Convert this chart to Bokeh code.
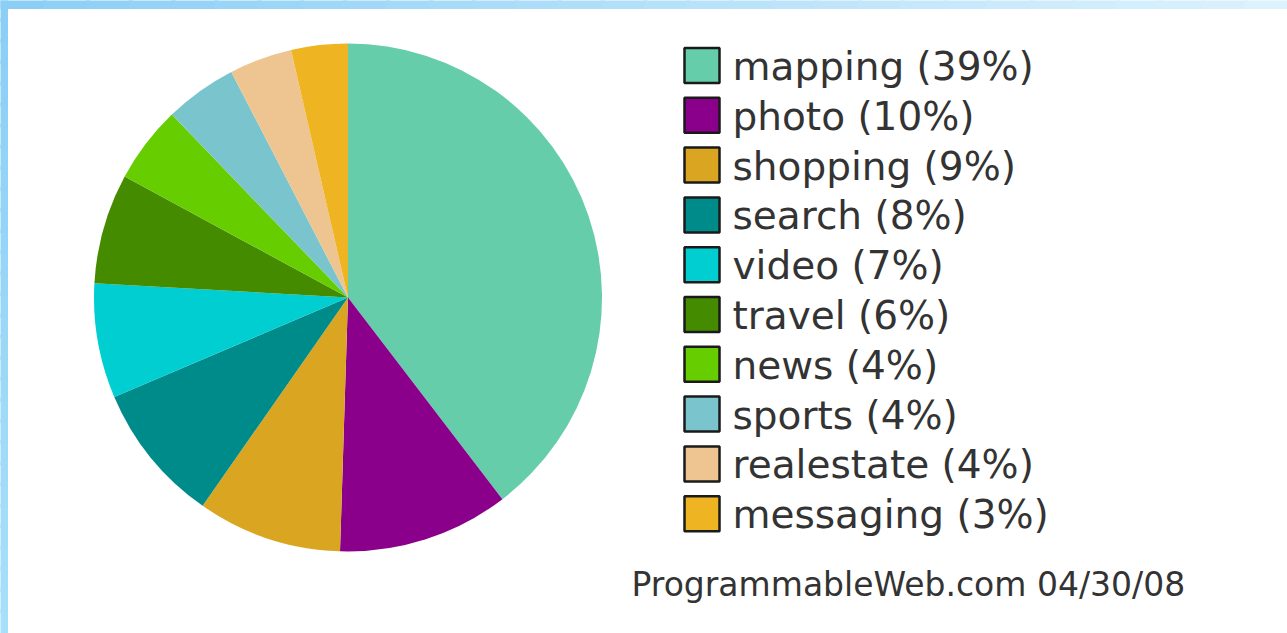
import numpy as np
from bokeh.plotting import figure
from bokeh.models import ColumnDataSource, Range1d
from bokeh.core.properties import value
from bokeh.embed import file_html
from bokeh.resources import INLINE

# ---- data ----
categories = ["mapping", "photo", "shopping", "search", "video",
              "travel", "news", "sports", "realestate", "messaging"]
legend_pct = [39, 10, 9, 8, 7, 6, 4, 4, 4, 3]
# slice shares (percent of the full circle)
slice_share = [39.6, 10.9, 9.2, 8.9, 7.3, 7.0, 4.9, 4.6, 4.0, 3.6]
colors = ["#66CDAA", "#8B008B", "#DAA520", "#008B8B", "#00CED1",
          "#458B00", "#66CD00", "#7AC5CD", "#EEC591", "#EEB422"]
footer = "ProgrammableWeb.com 04/30/08"

W, H = 1287, 633
p = figure(width=W, height=H, output_backend="svg", toolbar_location=None,
           x_range=Range1d(0, W), y_range=Range1d(0, H), min_border=0)
p.axis.visible = False
p.grid.visible = False
p.outline_line_color = None
p.background_fill_color = "white"
p.border_fill_color = "white"

# blue frame strips (top and left) with a gentle gradient (overlapping bands)
n = 30
xs = np.linspace(0, W, n + 1)
c0 = np.array([0x8c, 0xcf, 0xf6]); c1 = np.array([0xdc, 0xf2, 0xfd])
top_cols = ["#%02x%02x%02x" % tuple((c0 + (c1 - c0) * t).astype(int)) for t in np.linspace(0, 1, n)]
p.quad(left=xs[:-1], right=xs[1:] + 3, top=H + 2, bottom=H - 8, fill_color=top_cols,
       line_color=top_cols, line_width=1)
ys = np.linspace(0, H, n + 1)
c2 = np.array([0xa8, 0xe0, 0xfb])
left_cols = ["#%02x%02x%02x" % tuple((c2 + (c0 - c2) * t).astype(int)) for t in np.linspace(0, 1, n)]
p.quad(left=-2, right=7, bottom=ys[:-1], top=ys[1:] + 3, fill_color=left_cols,
       line_color=left_cols, line_width=1)

# pie
share = np.array(slice_share) / np.sum(slice_share)
cum = np.concatenate([[0], np.cumsum(share)])
start = np.pi / 2 - cum[:-1] * 2 * np.pi
end = np.pi / 2 - cum[1:] * 2 * np.pi
src = ColumnDataSource(dict(start=start, end=end, color=colors, cat=categories))
cx, cy, r = 347.5, H - 297, 254
p.wedge(x=cx, y=cy, radius=r, start_angle="start", end_angle="end",
        direction="clock", fill_color="color", line_color=None, source=src)

# legend
row0 = H - 65
step = 49.8
rows = row0 - np.arange(len(categories)) * step
labels = [f"{c} ({v}%)" for c, v in zip(categories, legend_pct)]
lsrc = ColumnDataSource(dict(y=rows, ty=rows - 1, color=colors, label=labels))
p.rect(x=701.5, y="y", width=35, height=35, fill_color="color",
       line_color="#1a1a1a", line_width=2.5, source=lsrc)
p.text(x=732, y="ty", text="label", text_font=value("DejaVu Sans"),
       text_font_size="39px", text_color="#333333", text_baseline="alphabetic",
       source=lsrc)

# footer
p.text(x=[631], y=[H - 584], text=[footer], text_font=value("DejaVu Sans"),
       text_font_size="33px", text_color="#333333", text_baseline="alphabetic")

open("out.html", "w").write(file_html(p, INLINE))
